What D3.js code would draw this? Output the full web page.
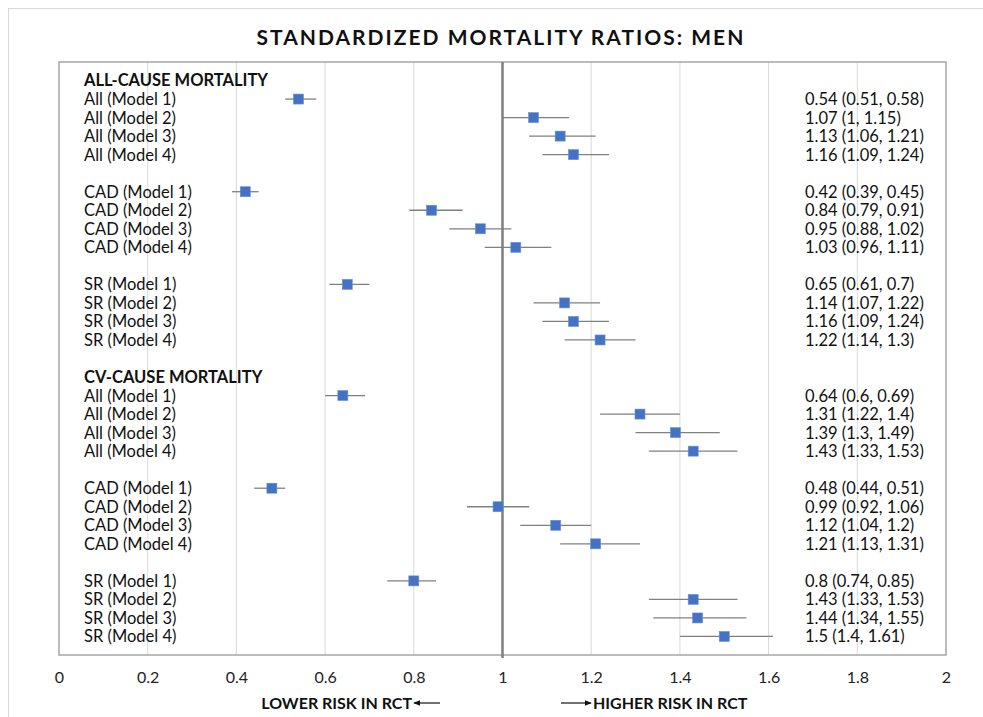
<!DOCTYPE html>
<html>
<head>
<meta charset="utf-8">
<script src="https://cdn.jsdelivr.net/npm/d3@7"></script>
<style>
  html, body { margin: 0; padding: 0; background: #fff; }
  svg { display: block; font-family: Lato, "Open Sans", sans-serif; }
</style>
</head>
<body>
<script>
// Section headings
const sections = ["ALL-CAUSE MORTALITY", "CV-CAUSE MORTALITY"];

// Subgroup labels per section (12 each, in blocks of 4)
const subgroups = [
  "All (Model 1)", "All (Model 2)", "All (Model 3)", "All (Model 4)",
  "CAD (Model 1)", "CAD (Model 2)", "CAD (Model 3)", "CAD (Model 4)",
  "SR (Model 1)", "SR (Model 2)", "SR (Model 3)", "SR (Model 4)"
];

// Standardized mortality ratios with 95% CI — all-cause
const allCauseSMR   = [0.54, 1.07, 1.13, 1.16, 0.42, 0.84, 0.95, 1.03, 0.65, 1.14, 1.16, 1.22];
const allCauseLower = [0.51, 1,    1.06, 1.09, 0.39, 0.79, 0.88, 0.96, 0.61, 1.07, 1.09, 1.14];
const allCauseUpper = [0.58, 1.15, 1.21, 1.24, 0.45, 0.91, 1.02, 1.11, 0.7,  1.22, 1.24, 1.3];

// Standardized mortality ratios with 95% CI — cardiovascular
const cvCauseSMR   = [0.64, 1.31, 1.39, 1.43, 0.48, 0.99, 1.12, 1.21, 0.8,  1.43, 1.44, 1.5];
const cvCauseLower = [0.6,  1.22, 1.3,  1.33, 0.44, 0.92, 1.04, 1.13, 0.74, 1.33, 1.34, 1.4];
const cvCauseUpper = [0.69, 1.4,  1.49, 1.53, 0.51, 1.06, 1.2,  1.31, 0.85, 1.53, 1.55, 1.61];

const xTicks = [0, 0.2, 0.4, 0.6, 0.8, 1, 1.2, 1.4, 1.6, 1.8, 2];

// Build the row list: heading, then blocks of 4 separated by blank rows
const seriesBySection = [
  { smr: allCauseSMR, lo: allCauseLower, hi: allCauseUpper },
  { smr: cvCauseSMR,  lo: cvCauseLower,  hi: cvCauseUpper }
];
const rows = [];
sections.forEach((title, s) => {
  if (s > 0) rows.push({ type: "blank" });
  rows.push({ type: "head", label: title });
  subgroups.forEach((lab, i) => {
    if (i > 0 && i % 4 === 0) rows.push({ type: "blank" });
    const d = seriesBySection[s];
    rows.push({ type: "data", label: lab, est: d.smr[i], lo: d.lo[i], hi: d.hi[i] });
  });
});
rows.forEach((r, i) => r.pos = i + 1);

const W = 983, H = 717;
const plot = { left: 59, right: 946, top: 62, bottom: 655 };

const svg = d3.select("body").append("svg").attr("width", W).attr("height", H);

// Chart area border
svg.append("rect")
  .attr("x", 8.5).attr("y", 8.5).attr("width", W + 20).attr("height", H + 20)
  .attr("fill", "none").attr("stroke", "#d9d9d9").attr("stroke-width", 1);

// Title
svg.append("text")
  .attr("x", 501).attr("y", 45)
  .attr("text-anchor", "middle")
  .attr("font-size", 21).attr("font-weight", 700)
  .attr("letter-spacing", 2)
  .attr("fill", "#111")
  .text("STANDARDIZED MORTALITY RATIOS: MEN");

const x = d3.scaleLinear().domain([0, 2]).range([plot.left, plot.right]);
const y = d3.scaleLinear().domain([0, rows.length + 1]).range([plot.top, plot.bottom]);

// Vertical gridlines
svg.append("g").selectAll("line")
  .data(xTicks.filter(t => t > 0 && t < 2 && t !== 1))
  .join("line")
  .attr("x1", d => x(d)).attr("x2", d => x(d))
  .attr("y1", plot.top).attr("y2", plot.bottom)
  .attr("stroke", "#d9d9d9").attr("stroke-width", 1);

// Plot frame
svg.append("rect")
  .attr("x", plot.left).attr("y", plot.top)
  .attr("width", plot.right - plot.left).attr("height", plot.bottom - plot.top)
  .attr("fill", "none").attr("stroke", "#a6a6a6").attr("stroke-width", 1.5);

// Reference line at ratio 1
svg.append("line")
  .attr("x1", x(1)).attr("x2", x(1))
  .attr("y1", plot.top).attr("y2", plot.bottom + 3)
  .attr("stroke", "#7f7f7f").attr("stroke-width", 2.5);

// X axis tick labels
const xAxis = d3.axisBottom(x).tickValues(xTicks).tickSize(0).tickPadding(0)
  .tickFormat(d3.format("~g"));
const gx = svg.append("g").attr("transform", `translate(0,${plot.bottom + 17})`).call(xAxis);
gx.select(".domain").remove();
gx.selectAll("text")
  .attr("font-family", "Lato, sans-serif").attr("font-size", 16)
  .attr("fill", "#222");

// Row labels
const dataRows = rows.filter(r => r.type === "data");
svg.append("g").selectAll("text")
  .data(rows.filter(r => r.type !== "blank"))
  .join("text")
  .attr("x", 84).attr("y", d => y(d.pos))
  .attr("dy", "0.36em")
  .attr("font-size", 16.5)
  .attr("font-weight", d => d.type === "head" ? 700 : 400)
  .attr("fill", "#111")
  .text(d => d.label);

// Estimate labels on the right
svg.append("g").selectAll("text")
  .data(dataRows)
  .join("text")
  .attr("x", 805).attr("y", d => y(d.pos))
  .attr("dy", "0.36em")
  .attr("font-size", 16.5)
  .attr("fill", "#111")
  .text(d => `${d.est} (${d.lo}, ${d.hi})`);

// Confidence intervals
svg.append("g").selectAll("line")
  .data(dataRows)
  .join("line")
  .attr("x1", d => x(d.lo)).attr("x2", d => x(d.hi))
  .attr("y1", d => y(d.pos)).attr("y2", d => y(d.pos))
  .attr("stroke", "#808080").attr("stroke-width", 1.3);

// Point estimates
const ms = 10;
svg.append("g").selectAll("rect")
  .data(dataRows)
  .join("rect")
  .attr("x", d => x(d.est) - ms / 2).attr("y", d => y(d.pos) - ms / 2)
  .attr("width", ms).attr("height", ms)
  .attr("fill", "#4472c4").attr("stroke", "#6a8fd6").attr("stroke-width", 0.6);

// Direction labels under the axis
const dirY = 709;
svg.append("text")
  .attr("x", 412).attr("y", dirY).attr("text-anchor", "end")
  .attr("font-size", 16).attr("font-weight", 700).attr("fill", "#111")
  .text("LOWER RISK IN RCT");
svg.append("text")
  .attr("x", 593).attr("y", dirY)
  .attr("font-size", 16).attr("font-weight", 700).attr("fill", "#111")
  .text("HIGHER RISK IN RCT");

// Arrows
const defs = svg.append("defs");
defs.append("marker")
  .attr("id", "arrowhead").attr("viewBox", "0 0 10 10")
  .attr("refX", 9).attr("refY", 5)
  .attr("markerWidth", 6).attr("markerHeight", 6)
  .attr("orient", "auto-start-reverse")
  .append("path").attr("d", "M0,1 L10,5 L0,9 Z").attr("fill", "#111");

svg.append("line")
  .attr("x1", 440).attr("x2", 414).attr("y1", dirY - 6).attr("y2", dirY - 6)
  .attr("stroke", "#111").attr("stroke-width", 1.2)
  .attr("marker-end", "url(#arrowhead)");
svg.append("line")
  .attr("x1", 561).attr("x2", 591).attr("y1", dirY - 6).attr("y2", dirY - 6)
  .attr("stroke", "#111").attr("stroke-width", 1.2)
  .attr("marker-end", "url(#arrowhead)");
</script>
</body>
</html>
